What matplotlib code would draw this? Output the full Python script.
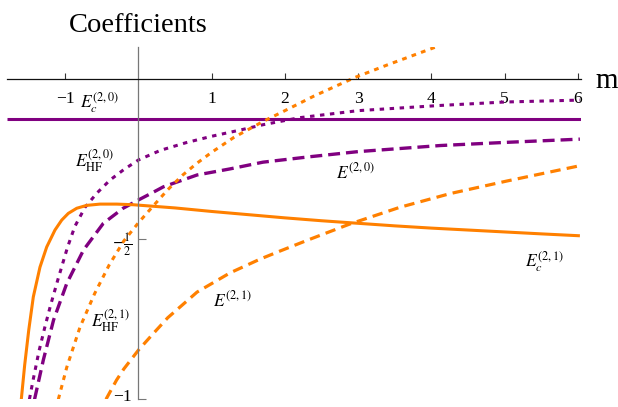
import matplotlib
matplotlib.use("Agg")
import matplotlib.pyplot as plt

# ---------------- data ----------------
# E_c^(2,0)  (purple solid, constant)
ec20_x = [-1.8, 6.05]
ec20_y = [-0.125, -0.125]

# E_HF^(2,0) (purple dotted)
hf20_x = [-1.49, -1.44, -1.36, -1.28, -1.20, -1.10, -0.97, -0.87, -0.73, -0.57, -0.39, -0.20,
          0.0, 0.30, 0.65, 1.0, 1.40, 1.70, 2.20, 3.0, 4.10, 5.0, 6.03]
hf20_y = [-1.0, -0.94, -0.85, -0.775, -0.705, -0.625, -0.525, -0.46, -0.40, -0.356, -0.315, -0.282,
          -0.252, -0.222, -0.198, -0.178, -0.158, -0.142, -0.120, -0.098, -0.082, -0.071, -0.065]

# E^(2,0) (purple dashed)
e20_x = [-1.42, -1.30, -1.16, -0.98, -0.75, -0.48, -0.21, 0.0, 0.16, 0.34, 0.80, 1.25, 1.70,
         2.34, 3.0, 4.12, 5.03, 6.03]
e20_y = [-1.0, -0.877, -0.752, -0.638, -0.533, -0.450, -0.403, -0.377, -0.358, -0.336, -0.299,
         -0.280, -0.259, -0.242, -0.226, -0.207, -0.197, -0.187]

# E_c^(2,1) (orange solid)
ec21_x = [-1.601, -1.555, -1.499, -1.437, -1.346, -1.254, -1.141, -1.049, -0.959, -0.844, -0.708,
          -0.526, -0.298, -0.071, 0.5, 1.0, 1.5, 2.0, 2.5, 3.0, 3.5, 4.0, 4.5, 5.0, 5.5, 6.03]
ec21_y = [-1.0, -0.893, -0.783, -0.680, -0.587, -0.524, -0.471, -0.440, -0.419, -0.403, -0.394,
          -0.390, -0.390, -0.392, -0.402, -0.413, -0.423, -0.433, -0.442, -0.450, -0.458, -0.465,
          -0.471, -0.477, -0.483, -0.489]

# E_HF^(2,1) (orange dotted)
hf21_x = [-1.095, -0.98, -0.80, -0.60, -0.40, -0.20, 0.0, 0.20, 0.40, 0.60, 0.80, 1.0, 1.30,
          1.70, 2.0, 2.40, 2.96, 3.40, 4.05]
hf21_y = [-1.0, -0.90, -0.775, -0.67, -0.58, -0.505, -0.448, -0.396, -0.345, -0.30, -0.262,
          -0.228, -0.182, -0.132, -0.098, -0.052, 0.006, 0.045, 0.10]

# E^(2,1) (orange dashed)
e21_x = [-0.444, -0.30, -0.20, 0.0, 0.20, 0.40, 0.80, 1.25, 1.66, 1.93, 2.34, 2.89, 3.57, 4.26,
         5.03, 6.03]
e21_y = [-1.0, -0.94, -0.905, -0.846, -0.795, -0.745, -0.665, -0.605, -0.562, -0.537, -0.500,
         -0.452, -0.400, -0.357, -0.318, -0.270]

x_ticks = [-1, 1, 2, 3, 4, 5, 6]
x_ticklabels = ["\u22121", "1", "2", "3", "4", "5", "6"]
y_ticks = [-1, -0.5]
y_ticklabels = ["\u22121", r"$-\frac{1}{2}$"]

# ---------------- style ----------------
plt.rcParams['font.family'] = ['Liberation Serif', 'DejaVu Serif']
plt.rcParams['mathtext.fontset'] = 'stix'
plt.rcParams['lines.scale_dashes'] = False

PURPLE = '#800080'
ORANGE = '#FF8000'

W, H = 618, 407
fig = plt.figure(figsize=(W / 100, H / 100), dpi=100)
fig.patch.set_facecolor('white')

# pixel mapping of the reference: x_px = 138.5 + 73.2 x ; y_px = 79.3 - 320 y
XMIN, XMAX, YMIN, YMAX = -1.8, 6.05, -1.0, 0.1
def px(x):
    return 138.5 + 73.2 * x
def py(y):
    return 79.3 - 320 * y

left = px(XMIN) / W
right = px(XMAX) / W
bottom = 1 - py(YMIN) / H
top = 1 - py(YMAX) / H
ax = fig.add_axes([left, bottom, right - left, top - bottom])
ax.set_xlim(XMIN, XMAX)
ax.set_ylim(YMIN, YMAX)
ax.patch.set_alpha(0)

for s in ['top', 'right']:
    ax.spines[s].set_visible(False)
ax.spines['bottom'].set_position(('data', 0))
ax.spines['left'].set_position(('data', 0))
ax.spines['bottom'].set_color('#111111')
ax.spines['left'].set_color('#777777')
ax.spines['bottom'].set_linewidth(0.9)
ax.spines['left'].set_linewidth(0.9)

ax.set_xticks(x_ticks)
ax.set_xticklabels(x_ticklabels)
ax.set_yticks(y_ticks)
ax.set_yticklabels(["", y_ticklabels[1]])
ax.tick_params(axis='x', direction='in', length=4.5, width=0.8, color='#333333',
               pad=8.5, labelsize=12.6)
ax.tick_params(axis='y', direction='in', length=5.5, width=0.8, color='#777777',
               pad=4.5, labelsize=12.6)

# the "-1" label of the y axis sits at the very bottom edge; keep it inside the canvas
fig.text(132 / W, 1 - 397 / H, y_ticklabels[0], fontsize=12.6, ha='right', va='center')

lw = 2.2
ax.plot(ec20_x, ec20_y, color=PURPLE, lw=lw, solid_capstyle='butt')
ax.plot(hf20_x, hf20_y, color=PURPLE, lw=lw, linestyle=(0, (3.2, 4.0)))
ax.plot(e20_x, e20_y, color=PURPLE, lw=lw + 0.2, linestyle=(0, (8.6, 4.3)))
ax.plot(ec21_x, ec21_y, color=ORANGE, lw=lw, solid_capstyle='butt', solid_joinstyle='round')
ax.plot(hf21_x, hf21_y, color=ORANGE, lw=lw, linestyle=(0, (3.4, 3.8)))
ax.plot(e21_x, e21_y, color=ORANGE, lw=lw + 0.1, linestyle=(0, (7.5, 4.5)))

# curve labels (positions in reference pixels)
def dx(p):
    return (p - 138.5) / 73.2
def dy(p):
    return (79.3 - p) / 320

labels = [
    (r"$E_c^{(2,0)}$", 100, 103),
    (r"$E_{\mathrm{HF}}^{(2,0)}$", 95, 161),
    (r"$E^{(2,0)}$", 356, 172),
    (r"$E_c^{(2,1)}$", 545, 262),
    (r"$E_{\mathrm{HF}}^{(2,1)}$", 111, 321),
    (r"$E^{(2,1)}$", 233, 300),
]
for txt, lx, ly in labels:
    ax.text(dx(lx), dy(ly), txt, fontsize=12.6, ha='center', va='center', color='black')

fig.text(138 / W, 1 - 32 / H, "Coefficients", fontsize=20.5, ha='center', va='baseline')
fig.text(595 / W, 1 - 88 / H, "m", fontsize=21, ha='left', va='baseline')

fig.savefig("out.png", dpi=100, facecolor='white')
